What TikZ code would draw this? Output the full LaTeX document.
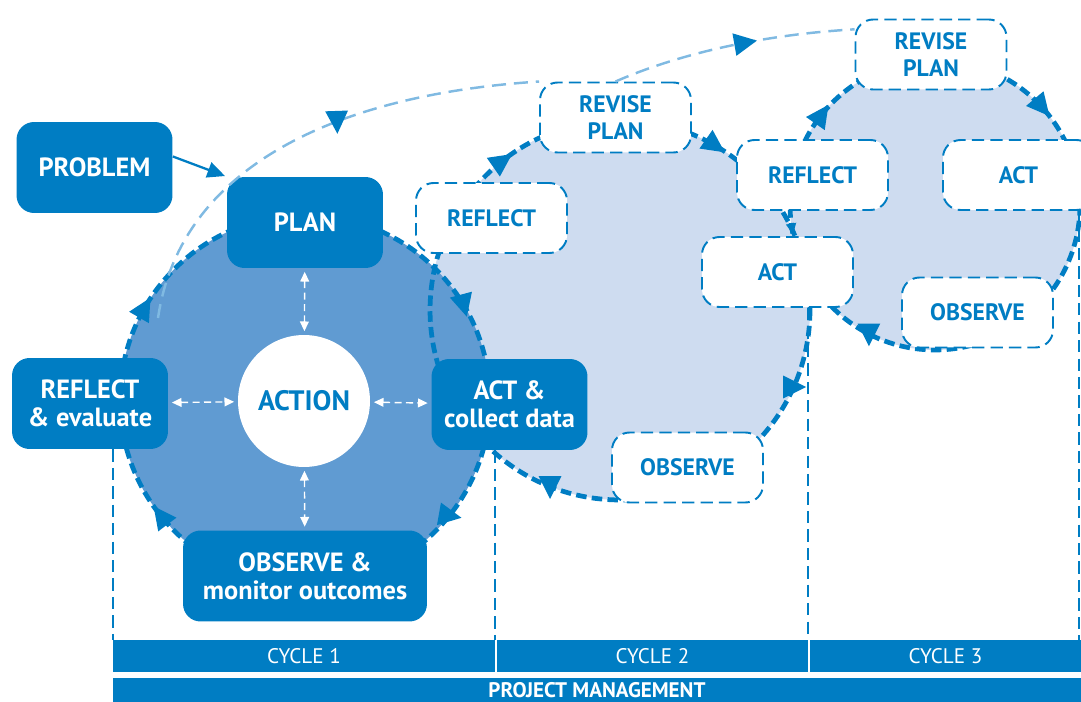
\documentclass[tikz,border=0pt]{standalone}
\usepackage{fontspec}
\setmainfont{PT Sans}
\usepackage{tikz}
\usetikzlibrary{shapes}
\usetikzlibrary{positioning}
\usetikzlibrary{arrows.meta}
\usetikzlibrary{calc}
\usetikzlibrary{decorations.markings}
\definecolor{arblue}{RGB}{0,125,195}
\definecolor{arcore}{RGB}{96,155,210}
\definecolor{arpale}{RGB}{206,220,240}
\definecolor{artrail}{RGB}{128,186,226}
\tikzset{
    bluebox/.style = {rectangle, rounded corners=10pt, fill=arblue, text=white, align=center, minimum width=3.12cm, minimum height=1.82cm, inner sep=0pt, font=\fontsize{15}{16}\selectfont\bfseries},
    dashbox/.style = {rectangle, rounded corners=10pt, draw=arblue, fill=white, line width=1.1pt, dash pattern=on 7pt off 3.5pt, text=arblue, align=center, minimum width=3.02cm, minimum height=1.4cm, inner sep=0pt, font=\fontsize{13.5}{15}\selectfont\bfseries},
    hubnode/.style = {circle, fill=white, text=arblue, minimum size=2.64cm, inner sep=0pt, font=\fontsize{16}{18}\selectfont\bfseries},
    barnode/.style = {rectangle, fill=arblue, text=white, inner sep=0pt, font=\fontsize{12}{14}\selectfont},
    loopline/.style = {draw=arblue, line width=2.7pt, dash pattern=on 6pt off 3pt},
    trailline/.style = {draw=artrail, line width=1.4pt, dash pattern=on 8pt off 4.5pt},
    guideline/.style = {draw=arblue, line width=1.1pt, dash pattern=on 7pt off 3.5pt},
    edgen/.style = {-{Triangle[length=10pt,width=9pt]}, arblue, line width=1.3pt, shorten >=1pt},
    edgew/.style = {{Triangle[length=5.5pt,width=5pt]}-{Triangle[length=5.5pt,width=5pt]}, white, line width=0.8pt, dash pattern=on 4pt off 2.5pt, shorten <=2pt, shorten >=2pt},
    headat/.style 2 args = {postaction={decorate, decoration={markings, mark=at position #1 with {\pgftransformresetnontranslations\pgftransformrotate{#2}\fill[arblue] (7pt,0pt) -- (-6pt,6.5pt) -- (-6pt,-6.5pt) -- cycle;}}}},
    smallheadat/.style 2 args = {postaction={decorate, decoration={markings, mark=at position #1 with {\pgftransformresetnontranslations\pgftransformrotate{#2}\fill[arblue] (3.5pt,0pt) -- (-2.5pt,3pt) -- (-2.5pt,-3pt) -- cycle;}}}}
}

\begin{document}
\begin{tikzpicture}[x=0.02cm,y=-0.02cm]
\useasboundingbox (0,0) rectangle (1081,702);
\coordinate (c1) at (305,400);
\coordinate (c2) at (620,310);
\coordinate (c3) at (935,205);
% cycle areas
\fill[arpale] (c2) circle[radius=3.8cm];
\fill[arpale] (c3) circle[radius=2.9cm];
\fill[arcore] (c1) circle[radius=3.7cm];
%
\draw[loopline, headat={0.0664}{0}, headat={0.310}{-90}, headat={0.6433}{35}, headat={0.833}{-35}]
  ([shift={(0:3.8cm)}]c2) arc[start angle=0, end angle=-360, radius=3.8cm];
\draw[loopline, headat={0.3253}{-90}, smallheadat={0.4747}{-80}, headat={0.6067}{55}, headat={0.8814}{-50}]
  ([shift={(0:2.9cm)}]c3) arc[start angle=0, end angle=-360, radius=2.9cm];
\draw[loopline, headat={0.1075}{-10}, headat={0.392}{127}, headat={0.5825}{60}, headat={0.914}{-75}]
  ([shift={(0:3.7cm)}]c1) arc[start angle=0, end angle=-360, radius=3.7cm];
% cycle 1
\node[bluebox] at (94.5, 167.5) (problem) {PROBLEM};
\node[bluebox] at (305, 222.5) (plan) {PLAN};
\node[bluebox] at (90, 403.5) (reflectA) {REFLECT\\\& evaluate};
\node[bluebox] at (509.5, 404.5) (actA) {ACT \&\\collect data};
\node[bluebox, minimum width=4.88cm] at (305, 576) (observeA) {OBSERVE \&\\monitor outcomes};
\node[hubnode] at (304, 401) (action) {ACTION};
% cycle 2
\node[dashbox] at (491.5, 218) (reflectB) {REFLECT};
\node[dashbox] at (615.5, 117.5) (reviseB) {REVISE\\PLAN};
\node[dashbox] at (777.5, 272) (actB) {ACT};
\node[dashbox] at (687.5, 467.5) (observeB) {OBSERVE};
% cycle 3
\node[dashbox] at (812.5, 175) (reflectC) {REFLECT};
\node[dashbox] at (931, 54.5) (reviseC) {REVISE\\PLAN};
\node[dashbox] at (1018.5, 175) (actC) {ACT};
\node[dashbox] at (977.5, 312.5) (observeC) {OBSERVE};
% bars
\node[barnode, minimum width=7.64cm, minimum height=0.64cm] at (304, 656) (cycA) {CYCLE 1};
\node[barnode, minimum width=6.22cm, minimum height=0.64cm] at (652.5, 656) (cycB) {CYCLE 2};
\node[barnode, minimum width=5.42cm, minimum height=0.64cm] at (945.5, 656) (cycC) {CYCLE 3};
\node[barnode, minimum width=19.36cm, minimum height=0.48cm, font=\fontsize{12}{14}\selectfont\bfseries] at (597, 690) (pm) {PROJECT MANAGEMENT};
%
\draw[guideline] (reflectA.south -| cycA.west) -- (cycA.north west);
\draw[guideline] (actA.south -| cycA.east) -- (cycA.north east);
\draw[guideline] (actB.south -| cycB.east) -- (cycB.north east);
\draw[guideline] ($(actC.south -| cycC.east)+(-2,0)$) -- ($(cycC.north east)+(-2,0)$);
%
\draw[edgen] (problem.8) -- (plan.north west);
\draw[edgew] (plan) -- (action);
\draw[edgew] (action) -- (observeA);
\draw[edgew] (reflectA) -- (action);
\draw[edgew] (action) -- (actA);
% trail between cycles
\coordinate (trailstart) at (158, 318);
\draw[trailline, headat={0.575}{-88}] (trailstart) .. controls (180,170) and (330,95) .. (reviseB.north west);
\draw[trailline, headat={0.55}{10}] (reviseB.north) .. controls (660,62) and (740,36) .. ($(reviseC.north west)!0.15!(reviseC.south west)$);
\end{tikzpicture}
\end{document}
